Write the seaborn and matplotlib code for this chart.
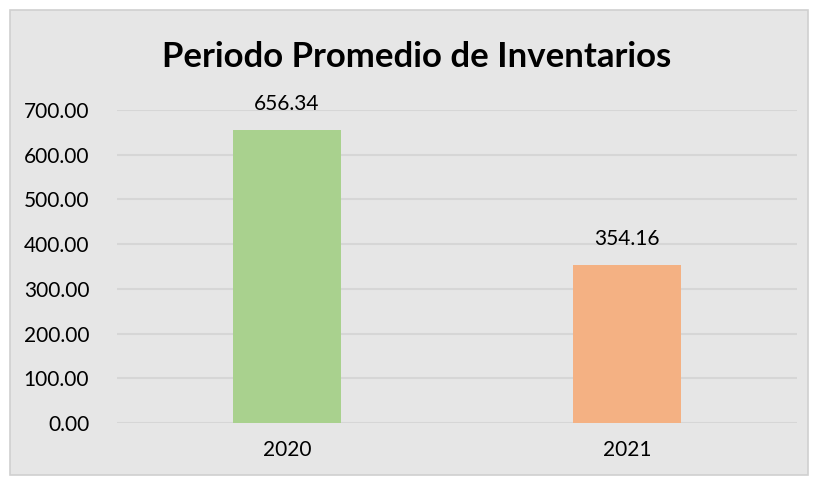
import matplotlib
matplotlib.use("Agg")
import matplotlib.pyplot as plt
from matplotlib.patches import Rectangle
import seaborn as sns

# data
years = ["2020", "2021"]
values = [656.34, 354.16]
colors = ["#a9d18e", "#f4b183"]

sns.set_theme(style="white")
plt.rcParams['font.family'] = ['Lato', 'DejaVu Sans']
plt.rcParams['text.color'] = 'black'

fig = plt.figure(figsize=(8.14, 4.79), dpi=100)
fig.patch.set_facecolor("white")

# chart area box (gray panel with thin border)
fig.patches.append(Rectangle((10 / 814, 4 / 479), 798 / 814, 465 / 479,
                             transform=fig.transFigure, facecolor="#e6e6e6",
                             edgecolor="#d0d0d0", linewidth=1.2, zorder=-5))

ax = fig.add_axes([117 / 814, 56 / 479, 680 / 814, 313 / 479])
ax.patch.set_alpha(0)

sns.barplot(x=years, y=values, hue=years, palette=colors, width=0.315,
            saturation=1, edgecolor="none", linewidth=0,
            legend=False, ax=ax, zorder=3)

ax.set_ylim(0, 700)
ax.set_yticks(range(0, 701, 100))
ax.set_yticklabels([f"{v:.2f}" for v in range(0, 701, 100)])
ax.yaxis.grid(True, color="#d6d6d6", linewidth=1.5)
ax.set_axisbelow(True)
for s in ax.spines.values():
    s.set_visible(False)
ax.tick_params(axis="both", length=0, labelsize=15, colors="black")
ax.tick_params(axis="y", pad=20)
ax.tick_params(axis="x", pad=12)
ax.set_xlabel("")
ax.set_ylabel("")

for c in ax.containers:
    ax.bar_label(c, fmt="%.2f", padding=11, fontsize=15, color="black")

fig.suptitle("Periodo Promedio de Inventarios", x=0.512, y=0.915,
             fontsize=25, fontweight="bold", color="black")

fig.savefig("out.png", dpi=100)
